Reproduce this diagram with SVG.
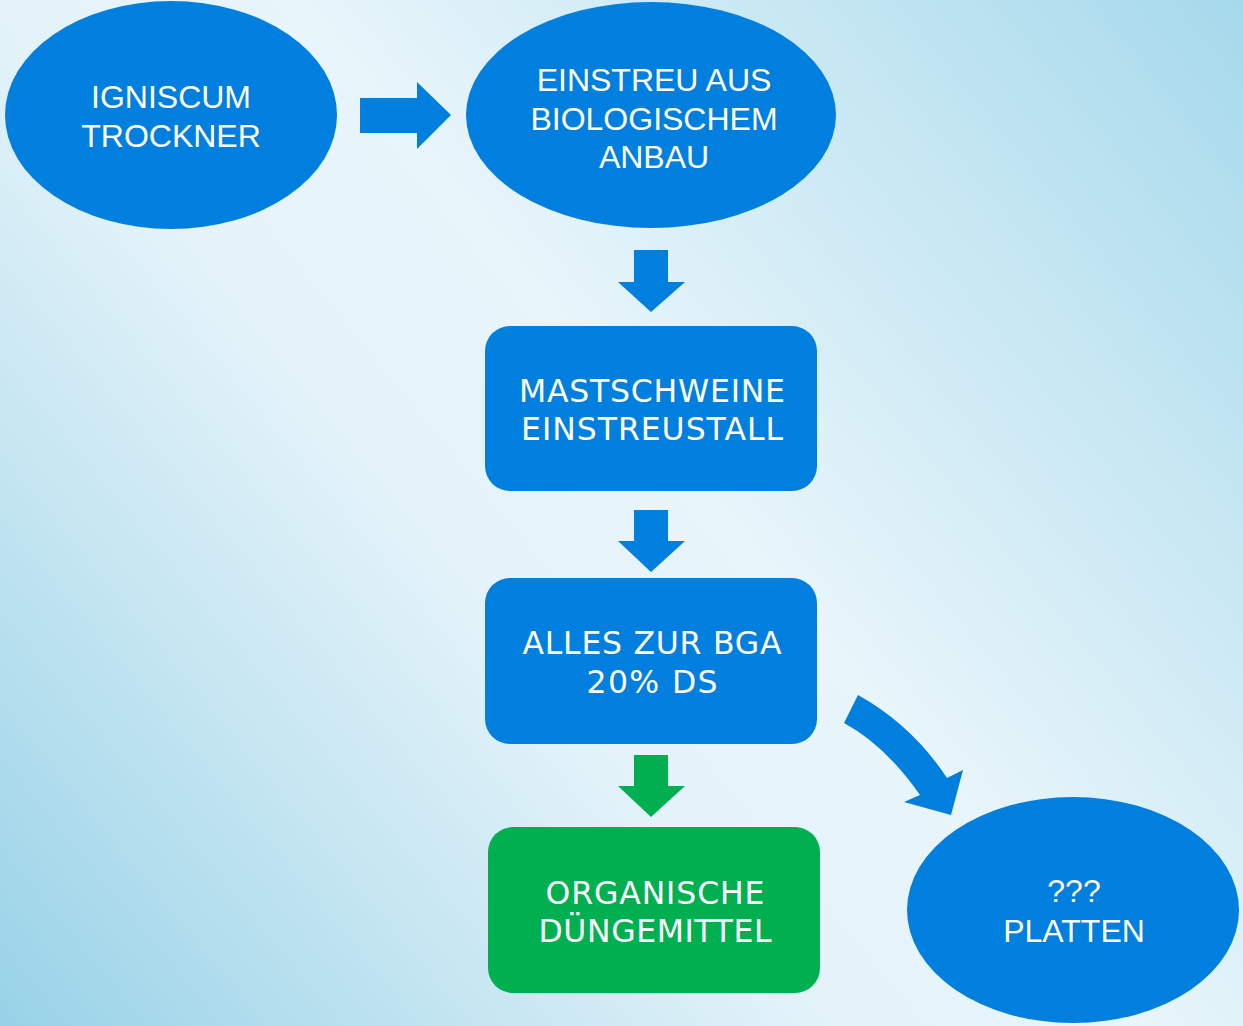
<svg xmlns="http://www.w3.org/2000/svg" width="1243" height="1026" viewBox="0 0 1243 1026">
<defs>
<linearGradient id="bg" x1="1243" y1="0" x2="0" y2="1026" gradientUnits="userSpaceOnUse">
<stop offset="0" stop-color="#A6D9EC"/>
<stop offset="0.2" stop-color="#C4E6F2"/>
<stop offset="0.45" stop-color="#E8F5FB"/>
<stop offset="0.6" stop-color="#E4F3FA"/>
<stop offset="0.8" stop-color="#BFE3F0"/>
<stop offset="1" stop-color="#98D2E8"/>
</linearGradient>
<style>
.b{fill:#007FDF}
.g{fill:#00B050}
.t{fill:#fff;font-family:"Liberation Sans",Arial,sans-serif;font-size:32px;text-anchor:middle}
.v{fill:#fff;font-family:"DejaVu Sans",Verdana,sans-serif;font-size:31.5px;text-anchor:middle}
</style>
</defs>
<rect width="1243" height="1026" fill="url(#bg)"/>
<g id="connectors">
<polygon class="b" points="360,98 417,98 417,82 451,115 417,149 417,133 360,133"/>
<polygon class="b" points="634,250 668,250 668,282 685,282 651,312 618,282 634,282"/>
<polygon class="b" points="634,510 668,510 668,541 685,541 651,572 618,541 634,541"/>
<polygon class="g" points="634,755 668,755 668,786 685,786 651,817 618,786 634,786"/>
<path class="b" d="M858,695 Q912,725 947,778 L963,770 L951,815 L904,802 L920,795 Q885,745 844,723 Z"/>
</g>
<g id="n1">
<ellipse class="b" cx="171" cy="115" rx="166" ry="114"/>
<text class="t" x="171" y="108">IGNISCUM</text>
<text class="t" x="171" y="147">TROCKNER</text>
</g>
<g id="n2">
<ellipse class="b" cx="651" cy="115" rx="185" ry="113"/>
<text class="t" x="654" y="91">EINSTREU AUS</text>
<text class="t" x="654" y="130">BIOLOGISCHEM</text>
<text class="t" x="654" y="168">ANBAU</text>
</g>
<g id="n3">
<rect class="b" x="485" y="326" width="332" height="165" rx="25"/>
<text class="v" x="652" y="402" textLength="266">MASTSCHWEINE</text>
<text class="v" x="652" y="440" textLength="262">EINSTREUSTALL</text>
</g>
<g id="n4">
<rect class="b" x="485" y="578" width="332" height="166" rx="25"/>
<text class="v" x="652" y="654" textLength="259">ALLES ZUR BGA</text>
<text class="v" x="652" y="693" textLength="131">20% DS</text>
</g>
<g id="n5">
<rect class="g" x="488" y="827" width="332" height="166" rx="25"/>
<text class="v" x="655" y="904" textLength="219">ORGANISCHE</text>
<text class="v" x="655" y="942" textLength="233">DÜNGEMITTEL</text>
</g>
<g id="n6">
<ellipse class="b" cx="1073" cy="910" rx="166" ry="113"/>
<text class="t" x="1074" y="902">???</text>
<text class="t" x="1074" y="942">PLATTEN</text>
</g>
</svg>
